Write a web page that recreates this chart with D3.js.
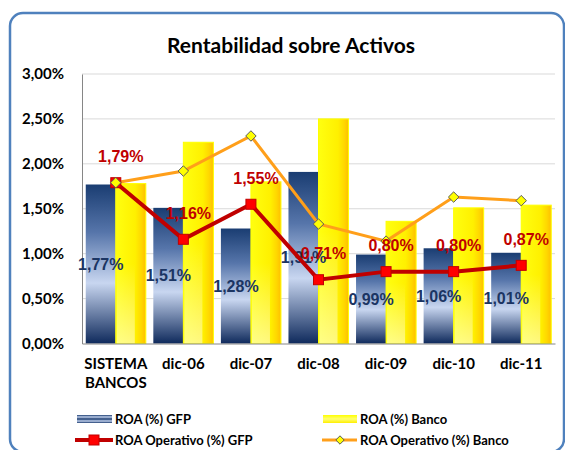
<!DOCTYPE html>
<html>
<head>
<meta charset="utf-8">
<script src="https://cdn.jsdelivr.net/npm/d3@7"></script>
<style>
  body { margin: 0; background: #fff; }
  svg { display: block; }
</style>
</head>
<body>
<div id="chart"></div>
<script>
// data
const categories = ["SISTEMA BANCOS", "dic-06", "dic-07", "dic-08", "dic-09", "dic-10", "dic-11"];
const roaGFP = [1.77, 1.51, 1.28, 1.91, 0.99, 1.06, 1.01];
const roaBanco = [1.78, 2.24, 1.80, 2.50, 1.36, 1.51, 1.54];
const roaOpGFP = [1.79, 1.16, 1.55, 0.71, 0.80, 0.80, 0.87];
const roaOpBanco = [1.79, 1.92, 2.31, 1.33, 1.14, 1.63, 1.59];
const yTicks = [0, 0.5, 1, 1.5, 2, 2.5, 3];

const width = 565, height = 450;
const plotLeft = 82, plotRight = 555, plotTop = 74, plotBottom = 343.5;

const fmt = v => d3.format(".2f")(v).replace(".", ",") + "%";
const calibri = "Lato, 'Open Sans', sans-serif";
const arial = "'Liberation Sans', Arial, sans-serif";

const svg = d3.select("#chart")
  .append("svg")
  .attr("width", width)
  .attr("height", height);

const defs = svg.append("defs");

function gradient(id, dir, stops) {
  const g = defs.append("linearGradient").attr("id", id)
    .attr("x1", 0).attr("y1", 0).attr("x2", dir[0]).attr("y2", dir[1]);
  stops.forEach(s => g.append("stop").attr("offset", s[0]).attr("stop-color", s[1]).attr("stop-opacity", s[2] ?? 1));
}

// GFP bars: dark navy top, light band lower middle, dark bottom
gradient("gBlue", [0, 1], [[0, "#1a3d72"], [0.3, "#5675aa"], [0.62, "#c8d6f0"], [1, "#0f2a5c"]]);
// Banco bars: yellow to orange on the right, paler at the bottom
gradient("gYellow", [1, 0], [[0, "#ffff10"], [0.65, "#fff000"], [0.85, "#ffd800"], [1, "#ffbf00"]]);
gradient("gPale", [0, 1], [[0, "#ffffff", 0], [0.5, "#ffffff", 0], [1, "#ffffff", 0.5]]);
gradient("gYellowLeg", [0, 1], [[0, "#ffff00"], [0.5, "#ffff70"], [1, "#ffee00"]]);
gradient("gBlueLeg", [0, 1], [[0, "#1a3a6e"], [0.25, "#c3d2ee"], [0.5, "#1a3a6e"], [0.75, "#c3d2ee"], [1, "#1a3a6e"]]);

// frame
svg.append("rect")
  .attr("x", 10).attr("y", 13)
  .attr("width", 554).attr("height", 439)
  .attr("rx", 13)
  .attr("fill", "none")
  .attr("stroke", "#4f81bd")
  .attr("stroke-width", 2.5);

// title
svg.append("text")
  .attr("x", 291).attr("y", 53)
  .attr("text-anchor", "middle")
  .attr("font-family", calibri)
  .attr("font-weight", "bold")
  .attr("font-size", "21px")
  .text("Rentabilidad sobre Activos");

const x = d3.scaleBand().domain(categories).range([plotLeft, plotRight]).paddingInner(0).paddingOuter(0);
const inner = d3.scaleBand().domain(["gfp", "banco"]).range([0, x.bandwidth()]).paddingOuter(0.125).paddingInner(0);
const y = d3.scaleLinear().domain([0, 3]).range([plotBottom, plotTop]);

// gridlines
svg.append("g")
  .selectAll("line")
  .data(yTicks.filter(d => d > 0))
  .join("line")
  .attr("x1", plotLeft).attr("x2", plotRight)
  .attr("y1", d => y(d)).attr("y2", d => y(d))
  .attr("stroke", "#d9d9d9")
  .attr("stroke-width", 1);

// y axis
const yAxis = svg.append("g")
  .attr("transform", `translate(${plotLeft},0)`)
  .call(d3.axisLeft(y).tickValues(yTicks).tickFormat(fmt).tickSize(0).tickPadding(18));
yAxis.select(".domain").attr("stroke", "#868686");
yAxis.selectAll("text")
  .attr("font-family", calibri)
  .attr("font-weight", "bold")
  .attr("font-size", "15px")
  .attr("fill", "#000");

// bars
const groups = svg.append("g")
  .selectAll("g")
  .data(categories)
  .join("g")
  .attr("transform", d => `translate(${x(d)},0)`);

groups.append("rect")
  .attr("x", inner("gfp"))
  .attr("width", inner.bandwidth())
  .attr("y", (d, i) => y(roaGFP[i]))
  .attr("height", (d, i) => plotBottom - y(roaGFP[i]))
  .attr("fill", "url(#gBlue)");

groups.append("rect")
  .attr("x", inner("banco"))
  .attr("width", inner.bandwidth())
  .attr("y", (d, i) => y(roaBanco[i]))
  .attr("height", (d, i) => plotBottom - y(roaBanco[i]))
  .attr("fill", "url(#gYellow)")
  .attr("stroke", "#ffff00")
  .attr("stroke-width", 1);

groups.append("rect")
  .attr("x", inner("banco") + 1)
  .attr("width", inner.bandwidth() * 0.6)
  .attr("y", (d, i) => y(roaBanco[i]))
  .attr("height", (d, i) => plotBottom - y(roaBanco[i]))
  .attr("fill", "url(#gPale)");

// x axis
const xAxis = svg.append("g")
  .attr("transform", `translate(0,${plotBottom})`)
  .call(d3.axisBottom(x).tickSize(0).tickFormat(""));
xAxis.select(".domain").attr("stroke", "#868686");

svg.append("g")
  .selectAll("text")
  .data(categories)
  .join("text")
  .attr("x", d => x(d) + x.bandwidth() / 2)
  .attr("y", 369)
  .attr("text-anchor", "middle")
  .attr("font-family", calibri)
  .attr("font-weight", "bold")
  .attr("font-size", "15px")
  .each(function (d) {
    const words = d.split(" ");
    d3.select(this).selectAll("tspan")
      .data(words)
      .join("tspan")
      .attr("x", x(d) + x.bandwidth() / 2)
      .attr("dy", (w, i) => i === 0 ? 0 : 19)
      .text(w => w);
  });

// GFP labels in the middle of the bars
groups.append("text")
  .attr("x", inner("gfp") + inner.bandwidth() / 2)
  .attr("y", (d, i) => (y(roaGFP[i]) + plotBottom) / 2)
  .attr("dy", "0.36em")
  .attr("text-anchor", "middle")
  .attr("font-family", arial)
  .attr("font-weight", "bold")
  .attr("font-size", "16px")
  .attr("fill", "#1b3563")
  .text((d, i) => fmt(roaGFP[i]));

const cx = d => x(d) + x.bandwidth() / 2;

// orange line (Banco operativo)
const lineGen = d3.line().x((d, i) => cx(categories[i])).y(d => y(d));
svg.append("path")
  .datum(roaOpBanco)
  .attr("d", lineGen)
  .attr("fill", "none")
  .attr("stroke", "#ff9f1a")
  .attr("stroke-width", 3);

// red line (GFP operativo)
svg.append("path")
  .datum(roaOpGFP)
  .attr("d", lineGen)
  .attr("fill", "none")
  .attr("stroke", "#c00000")
  .attr("stroke-width", 4);

svg.append("g")
  .selectAll("rect")
  .data(roaOpGFP)
  .join("rect")
  .attr("x", (d, i) => cx(categories[i]) - 5)
  .attr("y", d => y(d) - 5)
  .attr("width", 10).attr("height", 10)
  .attr("fill", "#ff0000")
  .attr("stroke", "#c00000")
  .attr("stroke-width", 1);

const diamond = d3.symbol().type(d3.symbolDiamond2).size(70);
svg.append("g")
  .selectAll("path")
  .data(roaOpBanco)
  .join("path")
  .attr("transform", (d, i) => `translate(${cx(categories[i])},${y(d)})`)
  .attr("d", diamond)
  .attr("fill", "#ffff00")
  .attr("stroke", "#595959")
  .attr("stroke-width", 1);

// red labels above the red points
svg.append("g")
  .selectAll("text")
  .data(roaOpGFP)
  .join("text")
  .attr("x", (d, i) => cx(categories[i]) + 5)
  .attr("y", d => y(d) - 26)
  .attr("dy", "0.36em")
  .attr("text-anchor", "middle")
  .attr("font-family", arial)
  .attr("font-weight", "bold")
  .attr("font-size", "16px")
  .attr("fill", "#c00000")
  .text(d => fmt(d));

// legend
const legend = svg.append("g")
  .attr("font-family", calibri)
  .attr("font-weight", "bold")
  .attr("font-size", "13px");

legend.append("rect").attr("x", 77).attr("y", 415).attr("width", 35).attr("height", 8).attr("fill", "url(#gBlueLeg)");
legend.append("text").attr("x", 115).attr("y", 419).attr("dy", "0.36em").text("ROA (%) GFP");

legend.append("rect").attr("x", 323).attr("y", 415).attr("width", 34).attr("height", 8).attr("fill", "url(#gYellowLeg)");
legend.append("text").attr("x", 360).attr("y", 419).attr("dy", "0.36em").text("ROA (%) Banco");

legend.append("line").attr("x1", 75).attr("x2", 113).attr("y1", 440).attr("y2", 440)
  .attr("stroke", "#c00000").attr("stroke-width", 4);
legend.append("rect").attr("x", 89).attr("y", 435).attr("width", 10).attr("height", 10)
  .attr("fill", "#ff0000").attr("stroke", "#c00000");
legend.append("text").attr("x", 115).attr("y", 440).attr("dy", "0.36em").text("ROA Operativo (%) GFP");

legend.append("line").attr("x1", 322).attr("x2", 357).attr("y1", 440).attr("y2", 440)
  .attr("stroke", "#ff9f1a").attr("stroke-width", 3);
legend.append("path").attr("transform", "translate(340,440)").attr("d", d3.symbol().type(d3.symbolDiamond2).size(45))
  .attr("fill", "#ffff00").attr("stroke", "#595959");
legend.append("text").attr("x", 360).attr("y", 440).attr("dy", "0.36em").text("ROA Operativo (%) Banco");
</script>
</body>
</html>
